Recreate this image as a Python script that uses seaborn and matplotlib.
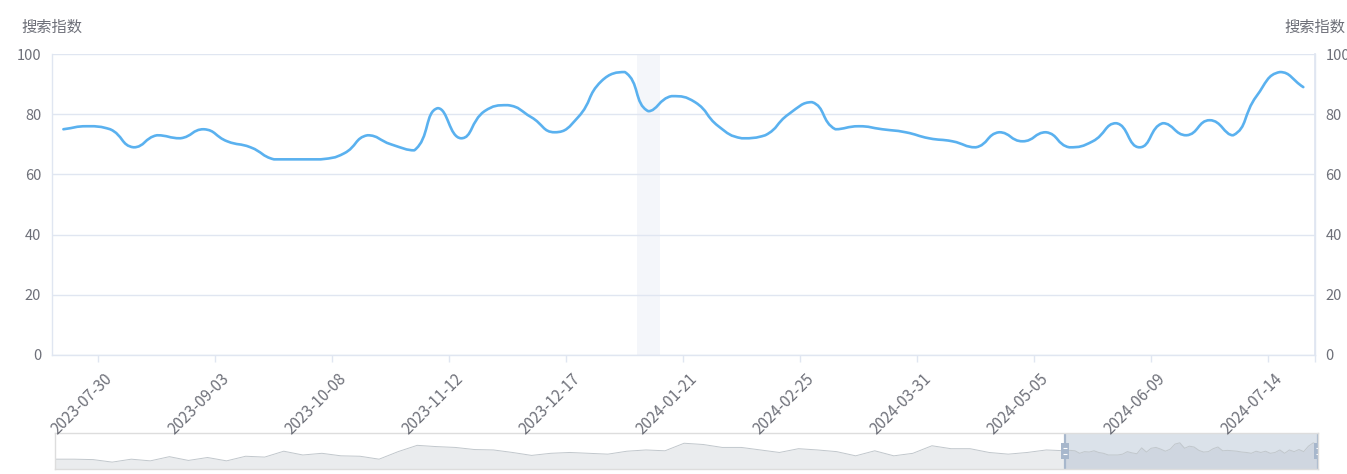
import numpy as np
import pandas as pd
import matplotlib
matplotlib.use("Agg")
import matplotlib.pyplot as plt
from matplotlib.path import Path
from matplotlib.patches import PathPatch
import seaborn as sns

# ========================
# DATA
# ========================
# weekly search index shown in the main chart (weeks starting 2023-07-16)
START_WEEK = "2023-07-16"
index_values = [75, 76, 75, 69, 73, 72, 75, 71, 69, 65,
                65, 65, 67, 73, 70, 68, 82, 72, 81, 83,
                79, 74, 79, 91, 94, 81, 86, 84, 76, 72,
                73, 80, 84, 75, 76, 75, 74, 72, 71, 69,
                74, 71, 74, 69, 71, 77, 69, 77, 73, 78,
                73, 86, 94, 89]

x_tick_labels = ["2023-07-30", "2023-09-03", "2023-10-08", "2023-11-12",
                 "2023-12-17", "2024-01-21", "2024-02-25", "2024-03-31",
                 "2024-05-05", "2024-06-09", "2024-07-14"]

# hovered week (axis pointer shadow)
HIGHLIGHT_WEEK = "2024-01-07"

# earlier history shown only in the zoom slider, read every 4 weeks
OVERVIEW_START = "2019-06-23"
overview_values = [55, 55, 54, 48, 55, 51, 61, 52, 59, 51,
                   62, 60, 74, 65, 69, 63, 62, 55, 73, 88,
                   85, 83, 78, 77, 71, 64, 69, 71, 69, 67,
                   74, 77, 75, 93, 90, 83, 83, 77, 71, 80,
                   77, 73, 63, 75, 63, 69, 87, 80, 80, 71,
                   67, 71, 77]

Y_NAME = "搜索指数"

# ========================
# STYLE
# ========================
LINE_COLOR = "#5ab1ef"
GRID_COLOR = "#e0e6f1"
TEXT_COLOR = "#6e7079"
SHADOW_COLOR = "#f4f6fa"
FONT_SIZE = 10.5

sns.set_theme(style="white")
plt.rcParams["font.family"] = ["Noto Sans CJK SC", "DejaVu Sans"]
plt.rcParams["axes.unicode_minus"] = False


def smooth_path(ax, xs, ys, smooth=0.5):
    """Bezier path through the points, same idea as echarts smooth lines."""
    pts = ax.transData.transform(np.column_stack([xs, ys]))
    n = len(pts)
    cp_out = np.zeros_like(pts)
    cp_in = np.zeros_like(pts)
    for i in range(n):
        p = pts[i]
        prev = pts[i - 1] if i > 0 else p
        nxt = pts[i + 1] if i < n - 1 else p
        v = nxt - prev
        l0 = np.hypot(*(p - prev))
        l1 = np.hypot(*(nxt - p))
        r = l1 / (l0 + l1) if (l0 + l1) > 0 else 0.5
        co = p + v * smooth * r
        ci = p - v * smooth * (1 - r)
        co = np.clip(co, np.minimum(p, nxt), np.maximum(p, nxt))
        ci = np.clip(ci, np.minimum(p, prev), np.maximum(p, prev))
        cp_out[i] = co
        cp_in[i] = ci
    verts = [pts[0]]
    codes = [Path.MOVETO]
    for i in range(n - 1):
        verts += [cp_out[i], cp_in[i + 1], pts[i + 1]]
        codes += [Path.CURVE4] * 3
    verts = ax.transData.inverted().transform(np.array(verts))
    return Path(verts, codes)


# ========================
# FIGURE
# ========================
weeks = pd.date_range(START_WEEK, periods=len(index_values), freq="7D")
categories = [d.strftime("%Y-%m-%d") for d in weeks]

W, H = 1347, 474
fig = plt.figure(figsize=(W / 100, H / 100), dpi=100)
fig.patch.set_facecolor("white")

ax = fig.add_axes([51.7 / W, 1 - 355 / H, (1315 - 51.7) / W, 301 / H])
ax.set_xlim(-0.5, len(index_values) - 0.5)
ax.set_ylim(0, 100)
ax.set_zorder(1)

# axis pointer shadow
hi = categories.index(HIGHLIGHT_WEEK)
ax.axvspan(hi - 0.5, hi + 0.5, color=SHADOW_COLOR, lw=0, zorder=0.5)

# grid
ax.set_yticks(range(0, 101, 20))
ax.yaxis.grid(True, color=GRID_COLOR, lw=1)
ax.xaxis.grid(False)
ax.set_axisbelow(True)

# main line (smoothed)
path = smooth_path(ax, np.arange(len(index_values)), np.array(index_values, float))
ax.add_patch(PathPatch(path, facecolor="none", edgecolor=LINE_COLOR,
                       lw=1.9, capstyle="round", joinstyle="round", zorder=3))

# x axis: labels centred on their week, ticks on band edges
tick_pos = [categories.index(lbl) for lbl in x_tick_labels]
ax.set_xticks(tick_pos)
ax.set_xticklabels(x_tick_labels, rotation=45, ha="right", va="center",
                   rotation_mode="anchor")
ax.tick_params(axis="x", which="major", length=0, pad=15.5,
               labelsize=11, labelcolor=TEXT_COLOR)
ax.set_xticks([p - 0.5 for p in tick_pos] + [len(index_values) - 0.5], minor=True)
ax.tick_params(axis="x", which="minor", length=5, width=1, color=GRID_COLOR,
               direction="out", bottom=True)
ax.tick_params(axis="y", length=0, pad=7.5, labelsize=FONT_SIZE,
               labelcolor=TEXT_COLOR)

ax.spines["top"].set_visible(False)
for side in ["left", "bottom", "right"]:
    ax.spines[side].set_color(GRID_COLOR)
    ax.spines[side].set_linewidth(1)
ax.set_xlabel("")
ax.set_ylabel("")

ax2 = ax.twinx()
ax2.set_ylim(0, 100)
ax2.set_yticks(range(0, 101, 20))
ax2.tick_params(axis="y", length=0, pad=7.5, labelsize=FONT_SIZE,
                labelcolor=TEXT_COLOR)
ax2.grid(False)
for side in ["left", "top", "bottom"]:
    ax2.spines[side].set_visible(False)
ax2.spines["right"].set_color(GRID_COLOR)
ax2.set_zorder(2)

for xa in (0, 1):
    ax.annotate(Y_NAME, xy=(xa, 1), xycoords="axes fraction",
                xytext=(0, 27), textcoords="offset pixels",
                ha="center", va="center", fontsize=11, color=TEXT_COLOR)

# ========================
# ZOOM SLIDER
# ========================
overview_dates = pd.date_range(OVERVIEW_START, periods=len(overview_values), freq="28D")
slider_df = pd.DataFrame({
    "date": list(overview_dates) + list(weeks),
    "value": overview_values + index_values,
})
SLIDER_FLOOR, SLIDER_CEIL = 31.6, 117.4

sax = fig.add_axes([55 / W, 5 / H, 1263 / W, 36 / H])
sax.set_zorder(0)
sax.fill_between(slider_df["date"], SLIDER_FLOOR, slider_df["value"],
                 color="#eaecee", lw=0)
sns.lineplot(data=slider_df, x="date", y="value", ax=sax,
             color="#c1c7cc", lw=0.7)
sax.set_xlim(slider_df["date"].iloc[0], slider_df["date"].iloc[-1])
sax.set_ylim(SLIDER_FLOOR, SLIDER_CEIL)
sax.axvspan(weeks[0], weeks[-1], color=(167 / 255, 183 / 255, 204 / 255, 0.4), lw=0)
handle = Path([(-0.22, -0.5), (0.22, -0.5), (0.22, 0.5), (-0.22, 0.5), (-0.22, -0.5)],
              [Path.MOVETO, Path.LINETO, Path.LINETO, Path.LINETO, Path.CLOSEPOLY])
mid = (SLIDER_FLOOR + SLIDER_CEIL) / 2
off = (SLIDER_CEIL - SLIDER_FLOOR) * 0.09
for edge in (weeks[0], weeks[-1]):
    sax.axvline(edge, color="#a7b7cc", lw=1.6)
    sax.plot([edge], [mid], marker=handle, markersize=11.5, color="#a7b7cc",
             markeredgewidth=0)
    sax.plot([edge, edge], [mid - off, mid + off], ls="none", marker="_",
             markersize=3.5, color="white", markeredgewidth=0.8)
sax.set_xticks([])
sax.set_yticks([])
sax.set_xlabel("")
sax.set_ylabel("")
for side in sax.spines.values():
    side.set_color("#dddddd")
    side.set_linewidth(1)

fig.savefig("out.png", dpi=100, facecolor="white")
